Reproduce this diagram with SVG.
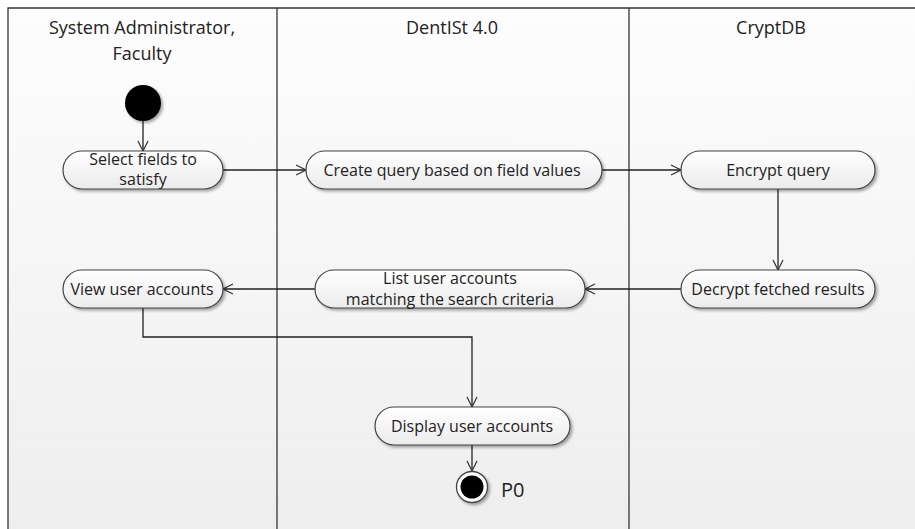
<svg xmlns="http://www.w3.org/2000/svg" width="915" height="529" viewBox="0 0 915 529">
<defs>
<linearGradient id="bg" x1="0" y1="0" x2="0" y2="1">
<stop offset="0" stop-color="#fdfdfd"/>
<stop offset="1" stop-color="#eeeeee"/>
</linearGradient>
<linearGradient id="nodeFill" x1="0" y1="0" x2="0" y2="1">
<stop offset="0" stop-color="#ffffff"/>
<stop offset="1" stop-color="#ebebeb"/>
</linearGradient>
<filter id="sh" x="-10%" y="-20%" width="130%" height="160%">
<feGaussianBlur in="SourceAlpha" stdDeviation="1.5"/>
<feOffset dx="2" dy="2" result="b"/>
<feComponentTransfer><feFuncA type="linear" slope="0.35"/></feComponentTransfer>
<feMerge><feMergeNode/><feMergeNode in="SourceGraphic"/></feMerge>
</filter>
<marker id="arr" viewBox="0 0 12 12" refX="11" refY="6" markerWidth="12" markerHeight="12" markerUnits="userSpaceOnUse" orient="auto">
<path d="M1,1 L11,6 L1,11" fill="none" stroke="#333" stroke-width="1.2"/>
</marker>
</defs>
<style>
.lane{stroke:#333;stroke-width:1.3;fill:none}
.hdr{font-family:"Open Sans","Noto Sans",sans-serif;font-size:18px;fill:#222;text-anchor:middle}
.act{fill:url(#nodeFill);stroke:#444;stroke-width:1.2;filter:url(#sh)}
.t{font-family:"Open Sans","Noto Sans",sans-serif;font-size:16px;fill:#222;text-anchor:middle}
.c{stroke:#222;stroke-width:1.3;fill:none}
.ca{stroke:#222;stroke-width:1.3;fill:none;marker-end:url(#arr)}
</style>
<rect x="0" y="0" width="915" height="529" fill="#ffffff"/>
<rect x="8" y="8" width="907" height="521" fill="url(#bg)"/>
<g id="lanes">
<path class="lane" d="M8,529 V8 H915"/>
<path class="lane" d="M277,8 V529"/>
<path class="lane" d="M629,8 V529"/>
<text class="hdr" x="142" y="34">System Administrator,</text>
<text class="hdr" x="142" y="60">Faculty</text>
<text class="hdr" x="452" y="34">DentISt 4.0</text>
<text class="hdr" x="771" y="34">CryptDB</text>
</g>
<g id="connectors">
<path class="ca" d="M143,121 V151"/>
<path class="ca" d="M223,170 H306"/>
<path class="ca" d="M602,170 H681"/>
<path class="ca" d="M778,189 V270"/>
<path class="ca" d="M681,289 H585"/>
<path class="ca" d="M315,289 H223"/>
<path class="ca" d="M143,308 V337 H472 V407"/>
<path class="ca" d="M472,445 V471"/>
</g>
<g id="start">
<circle cx="143" cy="103" r="18" fill="#000" filter="url(#sh)"/>
</g>
<g id="select-fields">
<rect class="act" x="63" y="151" width="160" height="38" rx="19"/>
<text class="t" x="143" y="165">Select fields to</text>
<text class="t" x="143" y="185">satisfy</text>
</g>
<g id="create-query">
<rect class="act" x="306" y="151" width="296" height="38" rx="19"/>
<text class="t" x="452" y="176">Create query based on field values</text>
</g>
<g id="encrypt-query">
<rect class="act" x="681" y="151" width="194" height="38" rx="19"/>
<text class="t" x="778" y="176">Encrypt query</text>
</g>
<g id="decrypt-results">
<rect class="act" x="681" y="270" width="194" height="38" rx="19"/>
<text class="t" x="778" y="295">Decrypt fetched results</text>
</g>
<g id="list-accounts">
<rect class="act" x="315" y="270" width="270" height="38" rx="19"/>
<text class="t" x="450" y="284">List user accounts</text>
<text class="t" x="450" y="305">matching the search criteria</text>
</g>
<g id="view-accounts">
<rect class="act" x="63" y="270" width="160" height="38" rx="19"/>
<text class="t" x="142" y="295">View user accounts</text>
</g>
<g id="display-accounts">
<rect class="act" x="375" y="407" width="195" height="38" rx="19"/>
<text class="t" x="472" y="432">Display user accounts</text>
</g>
<g id="end">
<circle cx="472" cy="487" r="15.5" fill="#fff" stroke="#444" stroke-width="1.3" filter="url(#sh)"/>
<circle cx="472" cy="487" r="11.5" fill="#000"/>
<text x="501" y="497" font-family="'Open Sans','Noto Sans',sans-serif" font-size="20" fill="#222">P0</text>
</g>
</svg>
